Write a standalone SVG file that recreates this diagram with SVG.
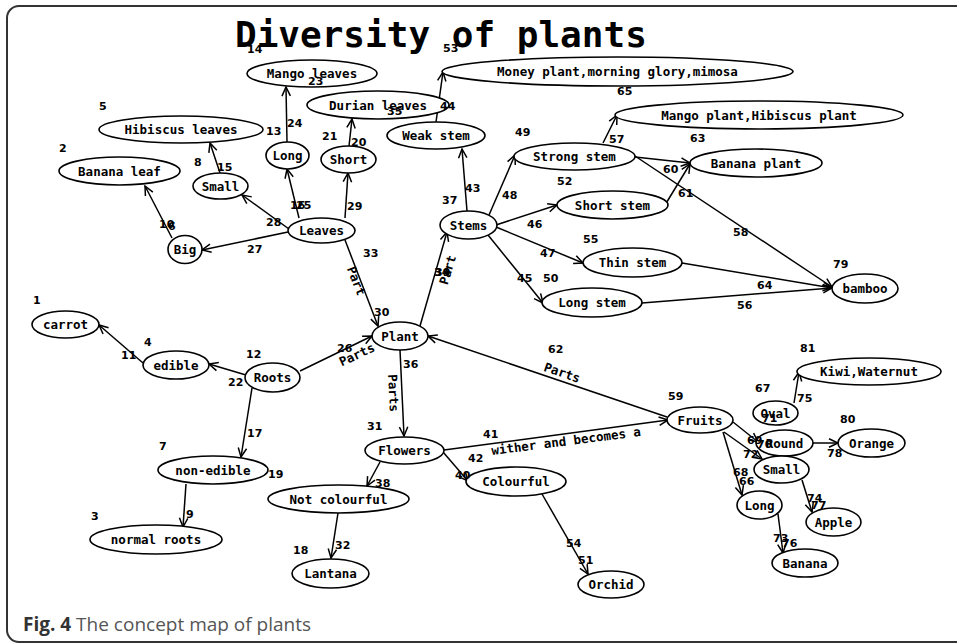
<svg xmlns="http://www.w3.org/2000/svg" width="957" height="644" viewBox="0 0 957 644">
<defs>
<marker id="arr" markerUnits="userSpaceOnUse" markerWidth="14" markerHeight="14" refX="10" refY="5" orient="auto" overflow="visible">
<path d="M1,0.8 L10,5 L1,9.2" fill="none" stroke="#000" stroke-width="1.5"/>
</marker>
<style>
.n ellipse{fill:#fff;stroke:#000;stroke-width:1.6}
.n text{font-family:"DejaVu Sans Mono",monospace;font-weight:bold;font-size:12.5px;text-anchor:middle;fill:#000}
#connectors line{stroke:#000;stroke-width:1.5;marker-end:url(#arr)}
.lp{font-family:"DejaVu Sans Mono",monospace;font-weight:bold;font-size:12.5px;fill:#000}
.num{font-family:"DejaVu Sans",sans-serif;font-weight:bold;font-size:11px;fill:#000}
.title{font-family:"DejaVu Sans Mono",monospace;font-weight:bold;font-size:36px;fill:#000}
.cap{font-family:"Open Sans","Liberation Sans",sans-serif;font-size:19px;fill:#555}
</style>
</defs>
<rect x="0" y="0" width="957" height="644" fill="#fff"/>
<rect x="7" y="6" width="980" height="636" rx="12" fill="none" stroke="#333" stroke-width="2"/>
<text class="title" x="235" y="47">Diversity of plants</text>
<text class="cap" x="23" y="631"><tspan font-weight="bold" fill="#333">Fig. 4</tspan> The concept map of plants</text>

<g id="connectors">
<line x1="172" y1="238" x2="145" y2="186"/>
<line x1="220" y1="173" x2="210" y2="143"/>
<line x1="287" y1="142" x2="286" y2="87"/>
<line x1="349" y1="146" x2="352" y2="119"/>
<line x1="288" y1="232" x2="202" y2="250"/>
<line x1="289" y1="229" x2="242" y2="195"/>
<line x1="299" y1="218" x2="287" y2="169"/>
<line x1="345" y1="218" x2="348" y2="173"/>
<line x1="345" y1="240" x2="378" y2="326"/>
<line x1="420" y1="326" x2="447" y2="232"/>
<line x1="300" y1="371" x2="372" y2="336"/>
<line x1="246" y1="375" x2="209" y2="364"/>
<line x1="143" y1="363" x2="99" y2="325"/>
<line x1="252" y1="388" x2="241" y2="457"/>
<line x1="186" y1="484" x2="183" y2="527"/>
<line x1="400" y1="350" x2="404" y2="436"/>
<line x1="380" y1="462" x2="367" y2="486"/>
<line x1="443" y1="452" x2="468" y2="481"/>
<line x1="444" y1="450" x2="668" y2="420"/>
<line x1="667" y1="417" x2="428" y2="336"/>
<line x1="542" y1="494" x2="588" y2="574"/>
<line x1="338" y1="513" x2="331" y2="558"/>
<line x1="436" y1="122" x2="443" y2="72"/>
<line x1="467" y1="211" x2="462" y2="149"/>
<line x1="489" y1="215" x2="515" y2="155"/>
<line x1="496" y1="225" x2="557" y2="205"/>
<line x1="496" y1="227" x2="583" y2="263"/>
<line x1="488" y1="235" x2="543" y2="303"/>
<line x1="603" y1="143" x2="617" y2="115"/>
<line x1="635" y1="157" x2="690" y2="163"/>
<line x1="665" y1="205" x2="690" y2="164"/>
<line x1="635" y1="156" x2="832" y2="287"/>
<line x1="682" y1="263" x2="832" y2="288"/>
<line x1="642" y1="303" x2="832" y2="288"/>
<line x1="794" y1="403" x2="799" y2="372"/>
<line x1="733" y1="422" x2="758" y2="442"/>
<line x1="724" y1="432" x2="762" y2="459"/>
<line x1="723" y1="432" x2="742" y2="495"/>
<line x1="813" y1="443" x2="838" y2="443"/>
<line x1="802" y1="480" x2="812" y2="512"/>
<line x1="778" y1="514" x2="783" y2="553"/>
<text class="lp" transform="translate(356,281) rotate(69)" text-anchor="middle" y="4">Part</text>
<text class="lp" transform="translate(448,270) rotate(-73)" text-anchor="middle" y="4">Part</text>
<text class="lp" transform="translate(357,355) rotate(-25)" text-anchor="middle" y="4">Parts</text>
<text class="lp" transform="translate(393,393) rotate(87)" text-anchor="middle" y="4">Parts</text>
<text class="lp" transform="translate(562,373) rotate(19)" text-anchor="middle" y="4">Parts</text>
<text class="lp" transform="translate(492,455) rotate(-7.3)">wither and becomes a</text>
</g>

<g id="carrot" class="n"><ellipse cx="65.5" cy="324.5" rx="33.5" ry="13.5"/><text x="65.5" y="329">carrot</text></g>
<g id="banana-leaf" class="n"><ellipse cx="119.5" cy="171" rx="60.5" ry="14"/><text x="119.5" y="175.5">Banana leaf</text></g>
<g id="normal-roots" class="n"><ellipse cx="156" cy="539.5" rx="66" ry="14.5"/><text x="156" y="544">normal roots</text></g>
<g id="edible" class="n"><ellipse cx="176" cy="365" rx="33" ry="14"/><text x="176" y="369.5">edible</text></g>
<g id="hibiscus-leaves" class="n"><ellipse cx="181" cy="129.5" rx="82" ry="13.5"/><text x="181" y="134">Hibiscus leaves</text></g>
<g id="non-edible" class="n"><ellipse cx="213" cy="470" rx="55" ry="14"/><text x="213" y="474.5">non-edible</text></g>
<g id="big" class="n"><ellipse cx="185" cy="249.5" rx="17" ry="14"/><text x="185" y="254">Big</text></g>
<g id="small-leaves" class="n"><ellipse cx="220.5" cy="186" rx="27.5" ry="13"/><text x="220.5" y="190.5">Small</text></g>
<g id="roots" class="n"><ellipse cx="272.5" cy="377.5" rx="27.5" ry="14.5"/><text x="272.5" y="382">Roots</text></g>
<g id="long-leaves" class="n"><ellipse cx="287.5" cy="155.5" rx="21.5" ry="13.5"/><text x="287.5" y="160">Long</text></g>
<g id="mango-leaves" class="n"><ellipse cx="312" cy="73.5" rx="65" ry="13.5"/><text x="312" y="78">Mango leaves</text></g>
<g id="leaves" class="n"><ellipse cx="321.5" cy="230.5" rx="33.5" ry="12.5"/><text x="321.5" y="235">Leaves</text></g>
<g id="short" class="n"><ellipse cx="348.5" cy="159.5" rx="27.5" ry="13.5"/><text x="348.5" y="164">Short</text></g>
<g id="durian-leaves" class="n"><ellipse cx="378" cy="105" rx="71" ry="14"/><text x="378" y="109.5">Durian leaves</text></g>
<g id="not-colourful" class="n"><ellipse cx="338.5" cy="499" rx="70.5" ry="14"/><text x="338.5" y="503.5">Not colourful</text></g>
<g id="lantana" class="n"><ellipse cx="330.5" cy="573.5" rx="38.5" ry="14.5"/><text x="330.5" y="578">Lantana</text></g>
<g id="plant" class="n"><ellipse cx="400" cy="336" rx="28" ry="14"/><text x="400" y="340.5">Plant</text></g>
<g id="flowers" class="n"><ellipse cx="404.5" cy="450.5" rx="39.5" ry="13.5"/><text x="404.5" y="455">Flowers</text></g>
<g id="weak-stem" class="n"><ellipse cx="436" cy="135.5" rx="49" ry="13.5"/><text x="436" y="140">Weak stem</text></g>
<g id="stems" class="n"><ellipse cx="468.5" cy="225" rx="28.5" ry="14"/><text x="468.5" y="229.5">Stems</text></g>
<g id="money-plant" class="n"><ellipse cx="617.5" cy="71.5" rx="175.5" ry="14.5"/><text x="617.5" y="76">Money plant,morning glory,mimosa</text></g>
<g id="colourful" class="n"><ellipse cx="516" cy="481.5" rx="50" ry="14.5"/><text x="516" y="486">Colourful</text></g>
<g id="strong-stem" class="n"><ellipse cx="574.5" cy="156.5" rx="60.5" ry="13.5"/><text x="574.5" y="161">Strong stem</text></g>
<g id="short-stem" class="n"><ellipse cx="612.5" cy="205" rx="55.5" ry="14"/><text x="612.5" y="209.5">Short stem</text></g>
<g id="thin-stem" class="n"><ellipse cx="632.5" cy="262.5" rx="49.5" ry="14.5"/><text x="632.5" y="267">Thin stem</text></g>
<g id="long-stem" class="n"><ellipse cx="592" cy="302.5" rx="50" ry="14.5"/><text x="592" y="307">Long stem</text></g>
<g id="orchid" class="n"><ellipse cx="611" cy="584.5" rx="33" ry="13.5"/><text x="611" y="589">Orchid</text></g>
<g id="mango-plant" class="n"><ellipse cx="759" cy="115" rx="144" ry="14"/><text x="759" y="119.5">Mango plant,Hibiscus plant</text></g>
<g id="banana-plant" class="n"><ellipse cx="756" cy="163" rx="66" ry="14"/><text x="756" y="167.5">Banana plant</text></g>
<g id="bamboo" class="n"><ellipse cx="865" cy="288.5" rx="33" ry="14.5"/><text x="865" y="293">bamboo</text></g>
<g id="kiwi-waternut" class="n"><ellipse cx="869" cy="371.5" rx="72" ry="13.5"/><text x="869" y="376">Kiwi,Waternut</text></g>
<g id="fruits" class="n"><ellipse cx="700" cy="420" rx="33" ry="13"/><text x="700" y="424.5">Fruits</text></g>
<g id="oval" class="n"><ellipse cx="775.5" cy="413" rx="22.5" ry="12"/><text x="775.5" y="417.5">Oval</text></g>
<g id="round" class="n"><ellipse cx="784.5" cy="443" rx="28.5" ry="13"/><text x="784.5" y="447.5">Round</text></g>
<g id="small-fruit" class="n"><ellipse cx="781.5" cy="469.5" rx="27.5" ry="13.5"/><text x="781.5" y="474">Small</text></g>
<g id="orange" class="n"><ellipse cx="871.5" cy="443" rx="33.5" ry="14"/><text x="871.5" y="447.5">Orange</text></g>
<g id="long-fruit" class="n"><ellipse cx="759.5" cy="505" rx="22.5" ry="14"/><text x="759.5" y="509.5">Long</text></g>
<g id="apple" class="n"><ellipse cx="833.5" cy="522" rx="27.5" ry="14"/><text x="833.5" y="526.5">Apple</text></g>
<g id="banana" class="n"><ellipse cx="805" cy="563" rx="33" ry="14"/><text x="805" y="567.5">Banana</text></g>

<g id="numbers" class="num">
<text x="247" y="53">14</text><text x="443" y="52">53</text><text x="308" y="85">23</text>
<text x="99" y="110">5</text><text x="59" y="152">2</text><text x="266" y="135">13</text>
<text x="287" y="127">24</text><text x="387" y="115">35</text><text x="440" y="110">44</text>
<text x="322" y="140">21</text><text x="351" y="146">20</text><text x="194" y="166">8</text>
<text x="217" y="171">15</text><text x="617" y="95">65</text><text x="515" y="136">49</text>
<text x="609" y="143">57</text><text x="690" y="142">63</text><text x="663" y="173">60</text>
<text x="678" y="197">61</text><text x="557" y="185">52</text><text x="442" y="204">37</text>
<text x="465" y="192">43</text><text x="502" y="199">48</text>
<text x="290" y="209">16</text><text x="296" y="209">25</text>
<text x="347" y="210">29</text><text x="266" y="226">28</text>
<text x="159" y="228">10</text><text x="168" y="230">6</text>
<text x="247" y="253">27</text><text x="363" y="257">33</text>
<text x="527" y="228">46</text><text x="540" y="257">47</text><text x="583" y="243">55</text>
<text x="733" y="236">58</text><text x="517" y="282">45</text><text x="543" y="282">50</text>
<text x="833" y="268">79</text><text x="757" y="289">64</text><text x="737" y="309">56</text>
<text x="33" y="304">1</text><text x="374" y="316">30</text>
<text x="434" y="276">34</text><text x="435" y="276">39</text>
<text x="144" y="346">4</text><text x="246" y="358">12</text><text x="121" y="359">11</text>
<text x="228" y="386">22</text><text x="337" y="352">26</text><text x="548" y="353">62</text>
<text x="800" y="352">81</text><text x="403" y="368">36</text><text x="755" y="392">67</text>
<text x="668" y="400">59</text><text x="797" y="402">75</text><text x="762" y="422">71</text>
<text x="840" y="423">80</text><text x="367" y="430">31</text><text x="247" y="437">17</text>
<text x="483" y="438">41</text><text x="747" y="444">69</text><text x="757" y="448">70</text>
<text x="159" y="450">7</text><text x="827" y="457">78</text><text x="743" y="458">72</text>
<text x="468" y="462">42</text><text x="268" y="478">19</text><text x="733" y="476">68</text>
<text x="455" y="479">40</text><text x="375" y="487">38</text><text x="739" y="485">66</text>
<text x="807" y="502">74</text><text x="811" y="509">77</text><text x="186" y="518">9</text>
<text x="91" y="520">3</text><text x="773" y="542">73</text><text x="782" y="547">76</text>
<text x="566" y="547">54</text><text x="335" y="549">32</text><text x="293" y="554">18</text>
<text x="578" y="564">51</text>
</g>
</svg>
